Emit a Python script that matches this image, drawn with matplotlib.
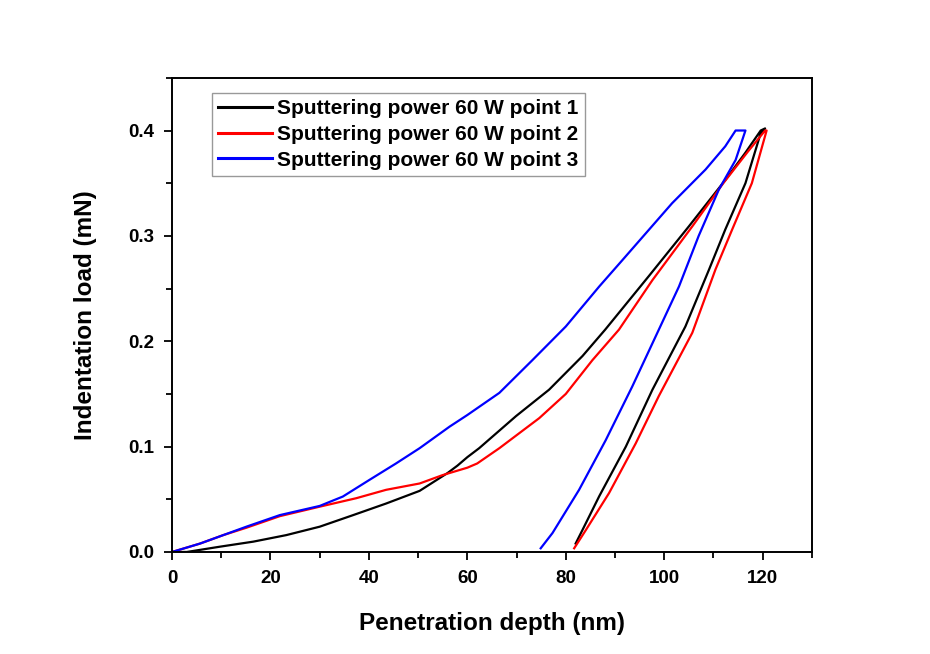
import matplotlib
matplotlib.use("Agg")
import matplotlib.pyplot as plt
from matplotlib.ticker import MultipleLocator

plt.rcParams['font.family'] = ['Liberation Sans', 'DejaVu Sans']
plt.rcParams['font.weight'] = 'bold'

# Load–displacement curves (depth in nm, load in mN): loading branch, hold, unloading branch
depth_p1 = [0, 3, 9.7, 16.5, 23.2, 30, 36.8, 43.5, 50.3, 56, 58, 60, 62.4, 69.9, 76.6,
            83.4, 88, 96.9, 105, 112.4, 116.5, 119.6, 120.5,
            119.5, 116.5, 112.4, 109.1, 104.3, 97.6, 92.2, 86.8, 83.4, 82.0]
load_p1 = [0, 0, 0.005, 0.0098, 0.016, 0.024, 0.035, 0.046, 0.058, 0.075, 0.082, 0.090, 0.0985, 0.129, 0.154,
           0.186, 0.211, 0.262, 0.309, 0.353, 0.379, 0.400, 0.402,
           0.396, 0.350, 0.306, 0.268, 0.214, 0.154, 0.100, 0.053, 0.021, 0.008]

depth_p2 = [0, 5.7, 10.4, 15.1, 21.9, 30, 37.4, 43.5, 50.3, 55, 60, 62, 66.5, 74.6,
            80, 85.4, 90.8, 97.6, 105.7, 112, 117, 120.5, 120.8,
            117.8, 113.8, 110.4, 105.7, 98.9, 94.2, 88.8, 84.1, 81.7]
load_p2 = [0, 0.008, 0.016, 0.023, 0.034, 0.043, 0.051, 0.059, 0.065, 0.073, 0.080, 0.084, 0.0985, 0.127,
           0.150, 0.182, 0.211, 0.258, 0.309, 0.350, 0.380, 0.400, 0.400,
           0.350, 0.306, 0.268, 0.208, 0.148, 0.103, 0.056, 0.021, 0.0035]

depth_p3 = [0, 5.7, 10.4, 15.1, 21.9, 30, 34.7, 40.1, 45.5, 50.3, 56.4, 60, 66.5, 73.2,
            80, 86.8, 91.5, 101.6, 108.4, 112.4, 114.5, 116.5,
            114.5, 111.1, 107, 103, 98.9, 93.5, 88.1, 82.7, 77.3, 74.9]
load_p3 = [0, 0.008, 0.016, 0.024, 0.035, 0.0437, 0.0526, 0.0684, 0.084, 0.0985, 0.119, 0.130, 0.151, 0.182,
           0.214, 0.252, 0.277, 0.331, 0.363, 0.385, 0.400, 0.400,
           0.372, 0.344, 0.300, 0.252, 0.211, 0.157, 0.106, 0.059, 0.018, 0.0035]

series_labels = ["Sputtering power 60 W point 1",
                 "Sputtering power 60 W point 2",
                 "Sputtering power 60 W point 3"]
series_colors = ["#000000", "#ff0000", "#0000ff"]

fig = plt.figure(figsize=(9.30, 6.54), dpi=100)
ax = fig.add_axes([0.185, 0.156, 0.688, 0.725])

for x, y, lab, col in zip([depth_p1, depth_p2, depth_p3],
                          [load_p1, load_p2, load_p3],
                          series_labels, series_colors):
    ax.plot(x, y, color=col, lw=1.6, label=lab)

ax.set_xlim(0, 130)
ax.set_ylim(0, 0.45)
ax.xaxis.set_major_locator(MultipleLocator(20))
ax.xaxis.set_minor_locator(MultipleLocator(10))
ax.yaxis.set_major_locator(MultipleLocator(0.1))
ax.yaxis.set_minor_locator(MultipleLocator(0.05))
ax.yaxis.set_major_formatter(plt.FuncFormatter(lambda v, p: f"{v:.1f}"))

ax.tick_params(which='both', direction='out', top=False, right=False, width=1.3)
ax.tick_params(which='major', length=6, labelsize=13.5, pad=7)
ax.tick_params(which='minor', length=4)
for lab in ax.get_xticklabels() + ax.get_yticklabels():
    lab.set_fontweight('bold')
for sp in ax.spines.values():
    sp.set_linewidth(1.4)

ax.set_xlabel("Penetration depth (nm)", fontsize=17.5, fontweight='bold', labelpad=18)
ax.set_ylabel("Indentation load (mN)", fontsize=17.5, fontweight='bold', labelpad=22)

leg = ax.legend(loc='upper left', bbox_to_anchor=(0.062, 0.968),
                handlelength=2.6, handletextpad=0.25, labelspacing=0.32,
                borderpad=0.3, borderaxespad=0.0, fancybox=False, framealpha=1,
                edgecolor='#999999', prop={'weight': 'bold', 'size': 15})
leg.get_frame().set_linewidth(1.0)
for line in leg.get_lines():
    line.set_linewidth(2.2)

fig.savefig("out.png", dpi=100, facecolor='white')
